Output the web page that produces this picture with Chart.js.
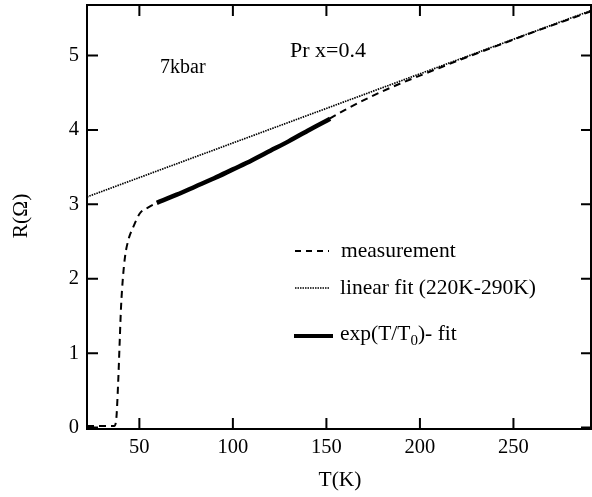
<!DOCTYPE html>
<html>
<head>
<meta charset="utf-8">
<script src="https://cdn.jsdelivr.net/npm/chart.js@4/dist/chart.umd.min.js"></script>
<style>
  html, body { margin: 0; padding: 0; background: #fff; }
  #c { display: block; }
</style>
</head>
<body>
<canvas id="c" width="592" height="497"></canvas>
<script>
// measurement (dashed)
const measT = [22, 30, 36.5, 37.6, 38.7, 39.5, 40.2, 41.1, 42.3, 44.1, 46.8, 50.3, 54.8, 59.3, 70, 80, 90, 100, 110, 120, 130, 140, 150, 160, 170, 180, 190, 200, 210, 220, 240, 260, 280, 292];
const measR = [0.02, 0.02, 0.02, 0.1, 0.63, 1.17, 1.62, 1.98, 2.29, 2.52, 2.70, 2.88, 2.96, 3.02, 3.13, 3.24, 3.35, 3.47, 3.59, 3.72, 3.85, 3.99, 4.13, 4.27, 4.40, 4.52, 4.63, 4.73, 4.83, 4.93, 5.12, 5.31, 5.49, 5.60];

// linear fit (220K-290K), dotted
const linT = [22, 292];
const linR = [3.10, 5.61];

// exp(T/T0) fit, thick
const expT = [59.3, 70, 80, 90, 100, 110, 120, 130, 140, 152];
const expR = [3.02, 3.13, 3.24, 3.35, 3.47, 3.59, 3.72, 3.85, 3.99, 4.15];

const xTicks = [50, 100, 150, 200, 250];
const yTicks = [0, 1, 2, 3, 4, 5];

const pts = (xs, ys) => xs.map((x, i) => ({ x: x, y: ys[i] }));
const FONT = "'Liberation Serif', 'DejaVu Serif', serif";

// frame, inward ticks, labels, legend
const decor = {
    id: "decor",
    afterDraw(chart) {
        const ctx = chart.ctx;
        const a = chart.chartArea;
        const xs = chart.scales.x, ys = chart.scales.y;
        ctx.save();
        ctx.strokeStyle = "#000";
        ctx.lineWidth = 2;
        ctx.strokeRect(a.left, a.top, a.right - 1 - a.left, a.bottom - a.top);

        ctx.beginPath();
        xTicks.forEach(v => {
            const px = xs.getPixelForValue(v);
            ctx.moveTo(px, a.bottom); ctx.lineTo(px, a.bottom - 11);
            ctx.moveTo(px, a.top); ctx.lineTo(px, a.top + 11);
        });
        yTicks.forEach(v => {
            const py = ys.getPixelForValue(v);
            ctx.moveTo(a.left, py); ctx.lineTo(a.left + 11, py);
            ctx.moveTo(a.right, py); ctx.lineTo(a.right - 11, py);
        });
        ctx.stroke();

        // axis titles
        ctx.fillStyle = "#000";
        ctx.font = "21.5px " + FONT;
        ctx.textAlign = "center";
        ctx.textBaseline = "middle";
        ctx.fillText("T(K)", 340, 480);
        ctx.save();
        ctx.translate(21, 216);
        ctx.rotate(-Math.PI / 2);
        ctx.fillText("R(Ω)", 0, 0);
        ctx.restore();

        // annotations
        ctx.textAlign = "left";
        ctx.font = "20px " + FONT;
        ctx.fillText("7kbar", 160, 68);
        ctx.font = "22px " + FONT;
        ctx.fillText("Pr x=0.4", 290, 51);

        // legend
        ctx.lineWidth = 2;
        ctx.setLineDash([6, 5]);
        ctx.beginPath(); ctx.moveTo(295, 251); ctx.lineTo(329, 251); ctx.stroke();
        ctx.lineWidth = 1.6;
        ctx.setLineDash([1.5, 1]);
        ctx.beginPath(); ctx.moveTo(295, 288); ctx.lineTo(329, 288); ctx.stroke();
        ctx.setLineDash([]);
        ctx.lineWidth = 4;
        ctx.beginPath(); ctx.moveTo(294, 336); ctx.lineTo(333, 336); ctx.stroke();

        ctx.font = "21.5px " + FONT;
        ctx.fillText("measurement", 341, 251);
        ctx.fillText("linear fit (220K-290K)", 340, 288);
        let x = 340;
        const s1 = "exp(T/T";
        ctx.fillText(s1, x, 334);
        x += ctx.measureText(s1).width;
        ctx.font = "15px " + FONT;
        ctx.fillText("0", x, 341);
        x += ctx.measureText("0").width;
        ctx.font = "21.5px " + FONT;
        ctx.fillText(")- fit", x, 334);
        ctx.restore();
    }
};

new Chart(document.getElementById("c").getContext("2d"), {
    type: "line",
    data: {
        datasets: [
            {
                label: "linear fit (220K-290K)",
                data: pts(linT, linR),
                borderColor: "#000",
                borderWidth: 1.7,
                borderDash: [1.5, 1],
                pointRadius: 0,
                fill: false
            },
            {
                label: "measurement",
                data: pts(measT, measR),
                borderColor: "#000",
                borderWidth: 2,
                borderDash: [7, 5],
                pointRadius: 0,
                cubicInterpolationMode: "monotone",
                fill: false
            },
            {
                label: "exp(T/T0) - fit",
                data: pts(expT, expR),
                borderColor: "#000",
                borderWidth: 4.5,
                pointRadius: 0,
                cubicInterpolationMode: "monotone",
                fill: false
            }
        ]
    },
    options: {
        responsive: false,
        animation: false,
        layout: { padding: { top: 5, right: 0, left: 0, bottom: 0 } },
        plugins: {
            legend: { display: false },
            tooltip: { enabled: false }
        },
        scales: {
            x: {
                type: "linear",
                min: 22,
                max: 292,
                afterBuildTicks: s => { s.ticks = xTicks.map(v => ({ value: v })); },
                afterFit: s => { s.height = 68; s.paddingLeft = 0; s.paddingRight = 0; },
                grid: { display: false, drawTicks: false },
                border: { display: false },
                ticks: {
                    color: "#000",
                    padding: 6,
                    font: { family: FONT, size: 20.5 },
                    maxRotation: 0
                }
            },
            y: {
                type: "linear",
                min: -0.02,
                max: 5.68,
                afterBuildTicks: s => { s.ticks = yTicks.map(v => ({ value: v })); },
                afterFit: s => { s.width = 87; s.paddingTop = 0; s.paddingBottom = 0; },
                grid: { display: false, drawTicks: false },
                border: { display: false },
                ticks: {
                    color: "#000",
                    padding: 8,
                    font: { family: FONT, size: 20.5 }
                }
            }
        }
    },
    plugins: [decor]
});
</script>
</body>
</html>
